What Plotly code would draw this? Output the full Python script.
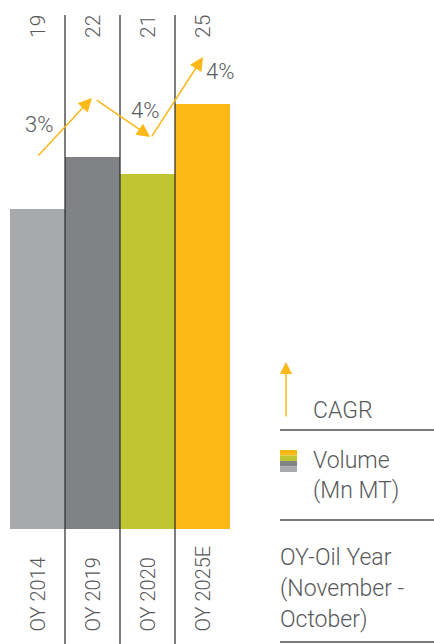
import plotly.graph_objects as go

# ---- data ----
categories = ["OY 2014", "OY 2019", "OY 2020", "OY 2025E"]
volumes = [19, 22, 21, 25]
value_labels = ["19", "22", "21", "25"]
bar_colors = ["#A7A9AC", "#808285", "#C0C632", "#FCB817"]
cagr_labels = ["3%", "4%", "4%"]

# CAGR arrow segments (tail x, tail y, head x, head y) in data units
cagr_arrows = [
    (-0.01, 21.98, 0.99, 25.34),
    (1.05, 25.28, 2.05, 23.12),
    (2.06, 23.06, 3.01, 27.67),
]
cagr_label_pos = [(0.03, 23.80), (1.95, 24.65), (3.32, 26.82)]

W, H = 434, 644
FONT = "Roboto"
TXT = "#58595B"
ORANGE = "#FCB817"

def px(x):
    return x / W

def py(y):
    return (H - y) / H

fig = go.Figure()
fig.add_trace(go.Bar(
    x=list(range(len(categories))), y=volumes,
    marker=dict(color=bar_colors, line=dict(width=0)),
    width=1.0, hoverinfo="skip", showlegend=False,
))

annotations = []
shapes = []

# value labels (rotated) at top
for i, lab in enumerate(value_labels):
    annotations.append(dict(
        x=i, y=py(13), xref="x", yref="paper", text=lab, textangle=-90,
        showarrow=False, xanchor="center", yanchor="top",
        font=dict(family=FONT, size=21, color=TXT, weight=300),
    ))

# category labels (rotated) at bottom
for i, lab in enumerate(categories):
    annotations.append(dict(
        x=i, y=py(634), xref="x", yref="paper", text=lab, textangle=-90,
        showarrow=False, xanchor="center", yanchor="bottom",
        font=dict(family=FONT, size=20, color=TXT, weight=300),
    ))

# separators
for xv in [0.5, 1.5, 2.5]:
    shapes.append(dict(type="line", xref="x", yref="paper", x0=xv, x1=xv,
                       y0=0, y1=py(15), layer="above",
                       line=dict(color="rgba(45,45,45,0.62)", width=2)))

# CAGR arrows
for (x0, y0, x1, y1) in cagr_arrows:
    annotations.append(dict(
        x=x1, y=y1, ax=x0, ay=y0, xref="x", yref="y", axref="x", ayref="y",
        text="", showarrow=True, arrowhead=2, arrowsize=1.8, arrowwidth=1.5,
        arrowcolor=ORANGE, standoff=0, startstandoff=0,
    ))
for (lx, ly), lab in zip(cagr_label_pos, cagr_labels):
    annotations.append(dict(
        x=lx, y=ly, xref="x", yref="y", text=lab, showarrow=False,
        xanchor="center", yanchor="middle",
        font=dict(family=FONT, size=22, color=TXT, weight=300),
    ))

# ---- legend / notes on the right ----
annotations.append(dict(
    x=px(286), y=py(362), xref="paper", yref="paper", ax=0, ay=56,
    axref="pixel", ayref="pixel", text="", showarrow=True, arrowhead=2,
    arrowsize=1.6, arrowwidth=1.5, arrowcolor=ORANGE, standoff=0,
))

legend_lines = [
    ("CAGR", 311, 410),
    ("Volume", 311, 460),
    ("(Mn MT)", 311, 490),
    ("OY-Oil Year", 278, 557),
    ("(November -", 278, 588),
    ("October)", 278, 619),
]
for txt, lx, ly in legend_lines:
    annotations.append(dict(
        x=px(lx), y=py(ly), xref="paper", yref="paper", text=txt,
        showarrow=False, xanchor="left", yanchor="middle",
        font=dict(family=FONT, size=23, color=TXT, weight=300),
    ))

for ly in [430, 520, 642]:
    shapes.append(dict(type="line", xref="paper", yref="paper",
                       x0=px(280), x1=1, y0=py(ly), y1=py(ly),
                       line=dict(color="#7A7A7A", width=2)))

# volume swatch (stacked colours)
sw_cols = [ORANGE, "#C0C632", "#808285", "#A7A9AC"]
sw_top, sw_h = 450, 5.5
for k, c in enumerate(sw_cols):
    shapes.append(dict(type="rect", xref="paper", yref="paper",
                       x0=px(280), x1=px(297),
                       y0=py(sw_top + (k + 1) * sw_h), y1=py(sw_top + k * sw_h),
                       line=dict(width=0), fillcolor=c))

fig.update_layout(
    width=W, height=H, margin=dict(l=0, r=0, t=0, b=0),
    paper_bgcolor="white", plot_bgcolor="white",
    bargap=0, showlegend=False,
    xaxis=dict(visible=False, range=[-0.5, 3.5], domain=[px(10), px(230)],
               fixedrange=True),
    yaxis=dict(visible=False, range=[0.78, 30.92], domain=[py(529), 1],
               fixedrange=True),
    annotations=annotations, shapes=shapes,
    font=dict(family=FONT, color=TXT),
)

fig.write_html(
    "out.html",
    config=dict(displayModeBar=False),
    post_script="document.body.style.margin='0';document.body.style.overflow='hidden';",
)
